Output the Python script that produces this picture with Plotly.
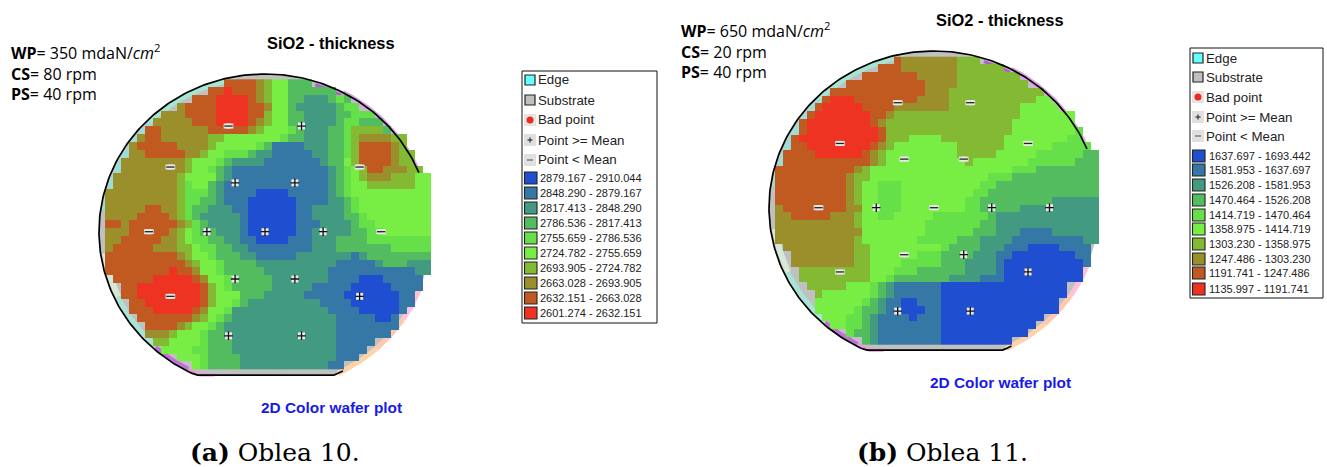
import numpy as np
import plotly.graph_objects as go

W, H = 1327, 467

# thickness class boundaries read from the two legends
edges_a = [2601.274, 2632.151, 2663.028, 2693.905, 2724.782, 2755.659, 2786.536, 2817.413, 2848.290, 2879.167, 2910.044]
edges_b = [1135.997, 1191.741, 1247.486, 1303.230, 1358.975, 1414.719, 1470.464, 1526.208, 1581.953, 1637.697, 1693.442]
class_colors = ["#ee3322", "#c05a20", "#9b8f2b", "#84b934", "#78ee44", "#66e048", "#52bc5e", "#429a80", "#3577a5", "#1f4fd0"]

# thickness class of each die cell (0 lowest .. 9 highest, '.' no data)
wafer_a = [
"............... 1111 23 44 666",
"............. 11 0 111 2 3 44 666666",
"........... 111 0000 1 2 3 44 66 777 6 5 6",
"......... 2 1111 0000 11 2 44 6 77777 6 55",
"....... 222 1111 0000 11 3 44 66 7777 66 555",
"...... 22222 111 0000 1 2 3 44 66 7777 6 55 666",
"..... 11 222222 1 1111 2 3 444 5 6 777 66 5 3333 6",
".... 2 11 222222 33 444444 4 5 66 777 66 5 3 2222 33",
"... 2 11111 2222 3 44444 5 6 8888 777 66 5 3 1111 2 3",
"... 22 11111 22 3 44 555 6 77 88888 77 66 5 3 1111 2 33",
".. 22222222 3 444 5 6 777 7 888888 8 7 66 4 3 1111 2 33",
".. 22222222 3 44 5 6 7 888888888888 7 6 5 4 3 11 222 33",
". 22222222 3 4444 6 7 888888888888 7 6 5 4 3 222 333 44",
". 22222222 3 5 44 6 7 8888888888888 7 6 5 44 333333 44",
"222222222 3 555 6 7 8888 9999 88888 7 6 5 4 44444 4444",
"222222222 3 55 66 7 888 999999 8888 77 6 5 444444444",
"22222 11 22 3 5 66 777 88 999999 88 7777 6 5 444444444",
"2222 1111 2 3 5 6 77777 8 999999 88 7777 66 5 44444444",
"11 2 111111 2 3 5 6 7777 8 999999 888 7777 6 55 4 444444",
"222 11111 2 3 4 5 66 777 8 999999 88 77777 66 55 444444",
"22 11111 22 3 4 55 66 77 88 9999 888 777 6666 55555555",
"2 11111 222 33 4 55 66 77 88 888888 777 666666 6 55555",
"111111111 2 3 44 5 666 77 88888 7777777 8 7 6666 6666",
"1111111111 2 3 44 5 6666 7777777777 88888 7 666 777",
"11111111 0 11 2 44 5 66666 77777777 88888888888 77",
". 1111 1 0 0000 1 2 44 5 66666 7777777 8888 99 9 8888 8",
".. 11 00000000 1 3 4 5 66666 77777 88888 99999 888 8",
".. 11 00000000 1 3 444 666 77777 88888 9999999 88",
"... 11 0000000 1 3 44 5 6 77777777 7 8888 999999 88",
"... 111 00000 1 2 44 5 77777777777 7 8888 99999 8",
".... 11111 11 2 3 4 5 6 7777777777777 88888 99 8",
"..... 1111 2 3 44 5 6 77777777777777 88888888",
"..... 222 3 444 5 66 77777777777777 8888888",
"...... 33 4 444 5 666 7777777777777 88888",
"....... 4 444 55 6 66 7777777777777 8888",
"......... 444 5 6666 777777777777 888",
"........... 4 5 6666 77777777777 88",
]

wafer_b = [
"............... 1 2222222 333",
"............. 111 2222222 333333",
"........... 1111111 22222 33333333",
"......... 1111111111 2222 333333333",
"....... 111111111111 222 333333333333",
"...... 1 000 11111111 2222 33333333333 44",
"..... 1 00000 1111 222222 2 333333333 44444",
".... 1 0000000 1 1 2 3333333333333333 4444444",
"... 1 00000000 1 2 3333 333333333333 44444444",
"... 1 000000000 1 3333333333333333 44444444 5",
".. 1 0000000000 1 333 4444 33333333 44444444 55",
".. 11 00000000 1 2 3 44444444 333333 444444 55555",
". 1111 000000 1 2 3 444444444 33333 44444 555555 66",
". 111111111 1 1 2 3 4444444444 3 4444444 555555 666",
"111111111 1 2 3 444444444444444444 5 55 66666666",
"111111111 2 3 3 444444444444444 55 5 66666666666",
"111111111 2 3 4 4 555 4444444444 55 6666666666666",
"111111111 2 3 44 555 444444444 55 66666666666666",
"111111111 2 3 44 555 44444444 55 666666666 777777",
"2 11111111 22 44 555 44444444 55 66666 7777777777",
"22 11111 222 3 44 55 44444 555 5555 6 7777777777777",
"2222222222 3 44444444 55555 55 66 7777777777777",
"22222222222 4 4444444 5 555 55 666 777 8888 777777",
"2222222222 3 4444444 55555 666 7777 888888888 77",
". 222222222 33 44444 4444 5 6 666 777 888 9999 888 8",
".. 22222222 33 44444 4 555 6 666 777 88 99999999 88",
".. 22222222 33 4444 55 555 666 777 7 8 9999999999 8",
"... 3333333 33 444 555 666666 7777 8 9999999999",
"... 333333 333 44 5 6666666 7777 888 9999999999",
".... 33333 44 4 5 6 7 888888 9999999999999999",
"..... 3 44444 4 5 6 7 888888 9999999999999999",
"..... 44444 4 5 6 7 88 99 888 999999999999999",
"..... 44444 5 66 7 88 999 88 999999999999999",
"...... 444 55 6 7 8 888 9 888 9999999999999",
"....... 44 55 6 7 88888888 999999999999",
"......... 5 66 7 88888888 99999999999",
"........... 6 7 88888888 999999999",
]

# measurement sites, mm from the wafer centre; sign of deviation from the mean per wafer
site_x = [-22, 22, -57, 57, -18, 18, -70, -35, 0, 35, 70, -18, 18, -57, 57, -22, 22]
site_y = [67, 67, 41, 41, 31, 31, 0, 0, 0, 0, 0, -30, -30, -41, -41, -66, -66]
above_mean_a = [0, 1, 0, 0, 1, 1, 0, 1, 1, 1, 0, 1, 1, 0, 1, 1, 1]
above_mean_b = [0, 0, 0, 0, 0, 0, 0, 1, 0, 1, 1, 0, 1, 0, 1, 1, 1]

N_COLS = 41


def decode(rows, edges):
    out = []
    for r in rows:
        s = r.replace(" ", "")
        s = (s + "." * N_COLS)[:N_COLS]
        out.append([None if ch == "." else (edges[int(ch)] + edges[int(ch) + 1]) / 2 for ch in s])
    return out


def discrete_scale(colors):
    n = len(colors)
    scale = []
    for i, c in enumerate(colors):
        scale.append([i / n, c])
        scale.append([(i + 1) / n, c])
    return scale


fig = go.Figure()
annotations, shapes = [], []


def px(x):
    return x / W


def py(y):
    return 1 - y / H


def wafer(idx, rows, edges, above, cx, cy, rx, ry, grid, dom_x, dom_y):
    # axes idx (1, 2) hold the substrate disc, axes idx+2 the heatmap and the sites on top of it
    bx, by = ("x", "y") if idx == 1 else ("x2", "y2")
    xa, ya = ("x3", "y3") if idx == 1 else ("x4", "y4")
    sx, sy = rx / 100, ry / 100

    def outline(a0, a1, r=1.0):
        t = np.radians(np.linspace(a0, a1, 240))
        x = r * 100 * np.cos(t)
        y = r * 100 * np.sin(t)
        return x, np.maximum(y, -90.9)

    x, y = outline(0, 360)
    fig.add_trace(go.Scatter(x=x, y=y, xaxis=bx, yaxis=by, mode="lines", fill="toself", fillcolor="#c0c0c0",
                             line=dict(width=0), hoverinfo="skip", showlegend=False))
    halos = [
        (100, 135, 0.985, "#a4e6d4", 5), (135, 172, 0.975, "#9fdcd8", 6),
        (188, 205, 0.975, "#d8e8d8", 6), (205, 228, 0.98, "#a8e4d6", 5),
        (228, 242, 0.985, "#c070d8", 4), (242, 252, 0.99, "#ef90e0", 3),
        (12, 30, 1.0, "#e8a8f4", 5), (30, 62, 1.0, "#dca0ee", 5), (62, 72, 0.98, "#b060c8", 3),
        (-20, -34, 1.0, "#ffc0d8", 5), (-34, -48, 1.0, "#ffc8b0", 5), (-48, -64, 1.0, "#ffd2a8", 5),
    ]
    for a0, a1, r, col, w in halos:
        x, y = outline(a0, a1, r)
        fig.add_trace(go.Scatter(x=x, y=y, xaxis=bx, yaxis=by, mode="lines", line=dict(color=col, width=w),
                                 hoverinfo="skip", showlegend=False))
    gx0, gy0, gx1, gy1 = grid
    z = decode(rows, edges)
    nr = len(z)
    dx = (gx1 - gx0) / N_COLS / sx
    dy = (gy1 - gy0) / nr / sy
    fig.add_trace(go.Heatmap(z=z, xaxis=xa, yaxis=ya,
                             x0=(gx0 - cx) / sx + dx / 2, dx=dx,
                             y0=(cy - gy0) / sy - dy / 2, dy=-dy,
                             zmin=edges[0], zmax=edges[-1], colorscale=discrete_scale(class_colors),
                             showscale=False, hoverongaps=False, xgap=0, ygap=0))
    x, y = outline(22, 298)
    fig.add_trace(go.Scatter(x=x, y=y, xaxis=xa, yaxis=ya, mode="lines", line=dict(color="#000000", width=1.7),
                             hoverinfo="skip", showlegend=False))
    plus_x = [a for a, s in zip(site_x, above) if s]
    plus_y = [a for a, s in zip(site_y, above) if s]
    minus_x = [a for a, s in zip(site_x, above) if not s]
    minus_y = [a for a, s in zip(site_y, above) if not s]
    fig.add_trace(go.Scatter(x=plus_x, y=plus_y, xaxis=xa, yaxis=ya, mode="markers",
                             marker=dict(symbol="square", size=7, color="#e8e8e8", line=dict(width=0)),
                             hoverinfo="skip", showlegend=False))
    fig.add_trace(go.Scatter(x=plus_x, y=plus_y, xaxis=xa, yaxis=ya, mode="markers",
                             marker=dict(symbol="cross-thin", size=6, line=dict(color="#111111", width=1.3)),
                             hoverinfo="skip", showlegend=False))
    for off in (-1.4, 0, 1.4):
        fig.add_trace(go.Scatter(x=[a + off for a in minus_x], y=minus_y, xaxis=xa, yaxis=ya, mode="markers",
                                 marker=dict(symbol="square", size=5, color="#e8e8e8", line=dict(width=0)),
                                 hoverinfo="skip", showlegend=False))
    fig.add_trace(go.Scatter(x=minus_x, y=minus_y, xaxis=xa, yaxis=ya, mode="markers",
                             marker=dict(symbol="line-ew", size=6, line=dict(color="#222222", width=1.3)),
                             hoverinfo="skip", showlegend=False))
    axis_common = dict(visible=False, fixedrange=True, showgrid=False, zeroline=False)
    ax_x = dict(domain=[px(dom_x[0]), px(dom_x[1])], range=[(dom_x[0] - cx) / sx, (dom_x[1] - cx) / sx], **axis_common)
    ax_y = dict(domain=[py(dom_y[1]), py(dom_y[0])], range=[(cy - dom_y[1]) / sy, (cy - dom_y[0]) / sy], **axis_common)
    name = {"x": "xaxis", "x2": "xaxis2", "x3": "xaxis3", "x4": "xaxis4"}
    yname = {"y": "yaxis", "y2": "yaxis2", "y3": "yaxis3", "y4": "yaxis4"}
    fig.update_layout({
        name[bx]: dict(anchor=by, **ax_x), yname[by]: dict(anchor=bx, **ax_y),
        name[xa]: dict(anchor=ya, **ax_x), yname[ya]: dict(anchor=xa, **ax_y),
    })


def text(x, y, s, size, font, color="#000000", anchor="left"):
    annotations.append(dict(x=px(x), y=py(y), xref="paper", yref="paper", text=s, showarrow=False, xanchor=anchor,
                            yanchor="middle", align="left", font=dict(size=size, family=font, color=color),
                            borderpad=0, borderwidth=0))


def rect(x0, y0, x1, y1, fill, line="#000000", w=1.0):
    shapes.append(dict(type="rect", xref="paper", yref="paper", x0=px(x0), x1=px(x1), y0=py(y0), y1=py(y1),
                       fillcolor=fill, line=dict(color=line, width=w)))


def seg(x0, y0, x1, y1, color="#333333", w=1.2):
    shapes.append(dict(type="line", xref="paper", yref="paper", x0=px(x0), x1=px(x1), y0=py(y0), y1=py(y1),
                       line=dict(color=color, width=w)))


def legend(edges, box, ex, tx, entry_y, sx0, sx1, rtx, range_y):
    rect(box[0], box[1], box[2], box[3], "#ffffff", "#111111", 1)
    LF = "Liberation Sans, Arial, sans-serif"
    rect(ex, entry_y[0] - 5, ex + 10, entry_y[0] + 5, "#66ffff", "#222222", 1.2)
    rect(ex, entry_y[1] - 5, ex + 10, entry_y[1] + 5, "#c0c0c0", "#222222", 1.2)
    rect(ex - 1, entry_y[2] - 6, ex + 11, entry_y[2] + 6, "#e4e4e4", "#e4e4e4", 0)
    shapes.append(dict(type="circle", xref="paper", yref="paper", x0=px(ex + 1.5), x1=px(ex + 8.5),
                       y0=py(entry_y[2] + 3.5), y1=py(entry_y[2] - 3.5), fillcolor="#ee2a20", line=dict(width=0)))
    rect(ex - 1, entry_y[3] - 6, ex + 11, entry_y[3] + 6, "#e0e0e0", "#e0e0e0", 0)
    seg(ex + 2.5, entry_y[3], ex + 7.5, entry_y[3])
    seg(ex + 5, entry_y[3] - 2.5, ex + 5, entry_y[3] + 2.5)
    rect(ex - 1, entry_y[4] - 6, ex + 11, entry_y[4] + 6, "#e0e0e0", "#e0e0e0", 0)
    seg(ex + 2, entry_y[4], ex + 8, entry_y[4], "#777777", 1.4)
    for lab, y in zip(["Edge", "Substrate", "Bad point", "Point &gt;= Mean", "Point &lt; Mean"], entry_y):
        text(tx, y, lab, 13.3, LF, "#222222")
    for i, y in enumerate(range_y):
        lvl = 9 - i
        rect(sx0, y - 6, sx1, y + 6, class_colors[lvl], "#222222", 1.1)
        text(rtx, y, f"{edges[lvl]:.3f} - {edges[lvl + 1]:.3f}", 11, LF, "#222222")


wafer(1, wafer_a, edges_a, above_mean_a, 265, 231.7, 166, 157.7, (105, 79.3, 431, 369.3), (92, 431), (68, 382))
wafer(2, wafer_b, edges_b, above_mean_b, 934, 207.7, 165, 156.7, (775, 56.7, 1099, 345), (762, 1099), (45, 358))

legend(edges_a, (522, 71, 657, 323), 525, 538, [80, 100, 120, 140, 160], 524.5, 537, 540,
       [178, 193, 208, 223, 238, 253, 268, 283, 298, 313])
legend(edges_b, (1190, 48, 1323, 298), 1193, 1206, [58, 77, 97, 117, 136], 1192.5, 1205, 1208.5,
       [156, 170, 185, 200, 215, 229, 244, 259, 273, 289])

BF = "Liberation Sans, Arial, sans-serif"
SF = "Open Sans, sans-serif"
CF = "DejaVu Serif, serif"
text(267, 43, "<b>SiO2 - thickness</b>", 16.4, BF)
text(936, 20, "<b>SiO2 - thickness</b>", 16.4, BF)
text(261, 407, "<b>2D Color wafer plot</b>", 15.4, BF, "#1a1ae6")
text(930, 382, "<b>2D Color wafer plot</b>", 15.4, BF, "#1a1ae6")
for x0, ymid, wp, cs, ps in [(11, 72, "350", "80", "40"), (681, 50, "650", "20", "40")]:
    text(x0, ymid, f"<b>WP</b>= {wp} mdaN/<i>cm</i><sup>2</sup><br><b>CS</b>= {cs} rpm<br><b>PS</b>= {ps} rpm", 16, SF)
text(190, 452, "<b>(a)</b> Oblea 10.", 25, CF)
text(857, 452, "<b>(b)</b> Oblea 11.", 25, CF)

fig.update_layout(width=W, height=H, autosize=False, margin=dict(l=0, r=0, t=0, b=0), paper_bgcolor="#ffffff",
                  plot_bgcolor="rgba(0,0,0,0)", showlegend=False, annotations=annotations, shapes=shapes)
fig.write_html("out.html", config={"displayModeBar": False},
               post_script="document.body.style.margin='0';document.body.style.overflow='hidden';")
